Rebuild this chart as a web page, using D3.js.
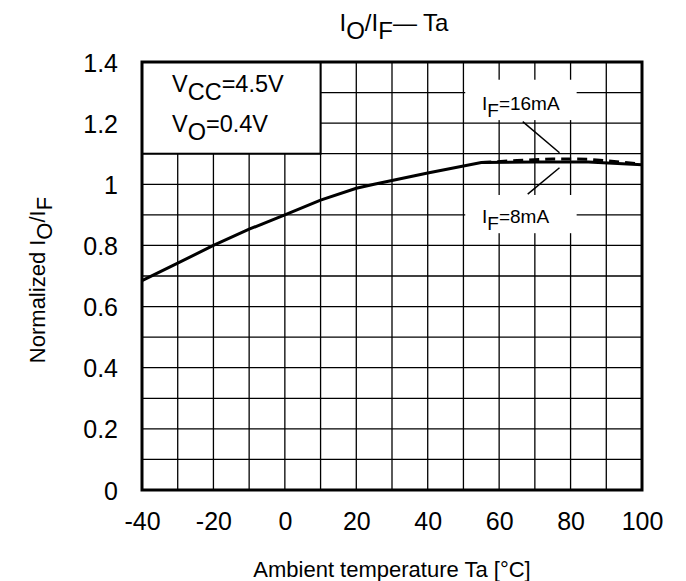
<!DOCTYPE html>
<html>
<head>
<meta charset="utf-8">
<script src="https://cdn.jsdelivr.net/npm/d3@7"></script>
<style>
  body { margin: 0; background: #fff; }
  text { font-family: "Liberation Sans", Arial, sans-serif; fill: #000; }
</style>
</head>
<body>
<script>
// Chart values
const xTicks = [-40, -20, 0, 20, 40, 60, 80, 100];
const yTicks = [0, 0.2, 0.4, 0.6, 0.8, 1, 1.2, 1.4];
const tempIF8 = [-40, -30, -20, -10, 0, 10, 20, 25, 40, 55, 70, 85, 100];
const ratioIF8 = [0.685, 0.742, 0.80, 0.853, 0.90, 0.948, 0.987, 1.0, 1.037, 1.071, 1.073, 1.073, 1.064];
const tempIF16 = [55, 65, 75, 85, 100];
const ratioIF16 = [1.071, 1.078, 1.083, 1.082, 1.066];

const width = 686;
const height = 581;
const margin = { top: 62, right: 44, bottom: 91, left: 142 };

const svg = d3.select("body")
  .append("svg")
  .attr("width", width)
  .attr("height", height);

const x = d3.scaleLinear()
  .domain([-40, 100])
  .range([margin.left, width - margin.right]);

const y = d3.scaleLinear()
  .domain([0, 1.4])
  .range([height - margin.bottom, margin.top]);

// grid every 10 degC / 0.1
const xGrid = d3.range(-30, 100, 10);
const yGrid = d3.range(1, 14).map(d => d / 10);

svg.append("g")
  .selectAll("line")
  .data(xGrid)
  .enter()
  .append("line")
  .attr("x1", d => x(d)).attr("x2", d => x(d))
  .attr("y1", y(0)).attr("y2", y(1.4))
  .attr("stroke", "#000")
  .attr("stroke-width", 1.3);

svg.append("g")
  .selectAll("line")
  .data(yGrid)
  .enter()
  .append("line")
  .attr("x1", x(-40)).attr("x2", x(100))
  .attr("y1", d => y(d)).attr("y2", d => y(d))
  .attr("stroke", "#000")
  .attr("stroke-width", 1.3);

// condition box (top-left)
svg.append("rect")
  .attr("x", x(-40))
  .attr("y", y(1.4))
  .attr("width", x(10) - x(-40))
  .attr("height", y(1.1) - y(1.4))
  .attr("fill", "#fff")
  .attr("stroke", "#000")
  .attr("stroke-width", 2);

// white patches behind the curve labels
svg.append("rect")
  .attr("x", x(50.5)).attr("y", y(1.342))
  .attr("width", x(81.7) - x(50.5))
  .attr("height", y(1.21) - y(1.342))
  .attr("fill", "#fff");

svg.append("rect")
  .attr("x", x(50.5)).attr("y", y(0.965))
  .attr("width", x(81.7) - x(50.5))
  .attr("height", y(0.84) - y(0.965))
  .attr("fill", "#fff");

// curves
const line = d3.line()
  .x(d => x(d[0]))
  .y(d => y(d[1]));

svg.append("path")
  .datum(tempIF8.map((t, i) => [t, ratioIF8[i]]))
  .attr("d", line)
  .attr("fill", "none")
  .attr("stroke", "#000")
  .attr("stroke-width", 3);

svg.append("path")
  .datum(tempIF16.map((t, i) => [t, ratioIF16[i]]))
  .attr("d", line)
  .attr("fill", "none")
  .attr("stroke", "#000")
  .attr("stroke-width", 3)
  .attr("stroke-dasharray", "10,6");

// leader lines
svg.append("line")
  .attr("x1", x(66.6)).attr("y1", y(1.205))
  .attr("x2", x(76.9)).attr("y2", y(1.103))
  .attr("stroke", "#000").attr("stroke-width", 1.5);

svg.append("line")
  .attr("x1", x(76.9)).attr("y1", y(1.054))
  .attr("x2", x(68.0)).attr("y2", y(0.968))
  .attr("stroke", "#000").attr("stroke-width", 1.5);

// plot frame
svg.append("rect")
  .attr("x", x(-40))
  .attr("y", y(1.4))
  .attr("width", x(100) - x(-40))
  .attr("height", y(0) - y(1.4))
  .attr("fill", "none")
  .attr("stroke", "#000")
  .attr("stroke-width", 3);

// axes (labels only)
const xAxis = svg.append("g")
  .attr("transform", `translate(0, ${y(0)})`)
  .call(d3.axisBottom(x).tickValues(xTicks).tickSize(0).tickFormat(d => String(d)));
xAxis.select(".domain").remove();
xAxis.selectAll("text")
  .attr("y", 40)
  .attr("dy", 0)
  .style("font-size", "25px")
  .style("font-family", "Liberation Sans, Arial, sans-serif");

const yAxis = svg.append("g")
  .attr("transform", `translate(${x(-40)}, 0)`)
  .call(d3.axisLeft(y).tickValues(yTicks).tickSize(0).tickFormat(d => String(d)));
yAxis.select(".domain").remove();
yAxis.selectAll("text")
  .attr("x", -24)
  .attr("dy", "0.36em")
  .style("font-size", "25px")
  .style("font-family", "Liberation Sans, Arial, sans-serif");

// condition text
const cond1 = svg.append("text")
  .attr("x", 172).attr("y", 92)
  .style("font-size", "23.5px");
cond1.append("tspan").text("V");
cond1.append("tspan").attr("dy", 8).text("CC");
cond1.append("tspan").attr("dy", -8).text("=4.5V");

const cond2 = svg.append("text")
  .attr("x", 172).attr("y", 132)
  .style("font-size", "23.5px");
cond2.append("tspan").text("V");
cond2.append("tspan").attr("dy", 8).text("O");
cond2.append("tspan").attr("dy", -8).text("=0.4V");

// curve labels
const lab16 = svg.append("text")
  .attr("x", 482).attr("y", 110)
  .style("font-size", "19px");
lab16.append("tspan").text("I");
lab16.append("tspan").attr("dy", 7).text("F");
lab16.append("tspan").attr("dy", -7).text("=16mA");

const lab8 = svg.append("text")
  .attr("x", 482).attr("y", 223)
  .style("font-size", "19px");
lab8.append("tspan").text("I");
lab8.append("tspan").attr("dy", 7).text("F");
lab8.append("tspan").attr("dy", -7).text("=8mA");

// title
const title = svg.append("text")
  .attr("x", 394).attr("y", 31)
  .attr("text-anchor", "middle")
  .style("font-size", "24px");
title.append("tspan").text("I");
title.append("tspan").attr("dy", 8).text("O");
title.append("tspan").attr("dy", -8).text("/I");
title.append("tspan").attr("dy", 8).text("F");
title.append("tspan").attr("dy", -8).text("\u2014  Ta");

// axis titles
svg.append("text")
  .attr("x", 392).attr("y", 577)
  .attr("text-anchor", "middle")
  .style("font-size", "22px")
  .text("Ambient temperature Ta [\u00B0C]");

const yTitle = svg.append("text")
  .attr("transform", `translate(45, ${(y(0) + y(1.4)) / 2 + 4}) rotate(-90)`)
  .attr("text-anchor", "middle")
  .style("font-size", "22px");
yTitle.append("tspan").text("Normalized I");
yTitle.append("tspan").attr("dy", 7).text("O");
yTitle.append("tspan").attr("dy", -7).text("/I");
yTitle.append("tspan").attr("dy", 7).text("F");
</script>
</body>
</html>
